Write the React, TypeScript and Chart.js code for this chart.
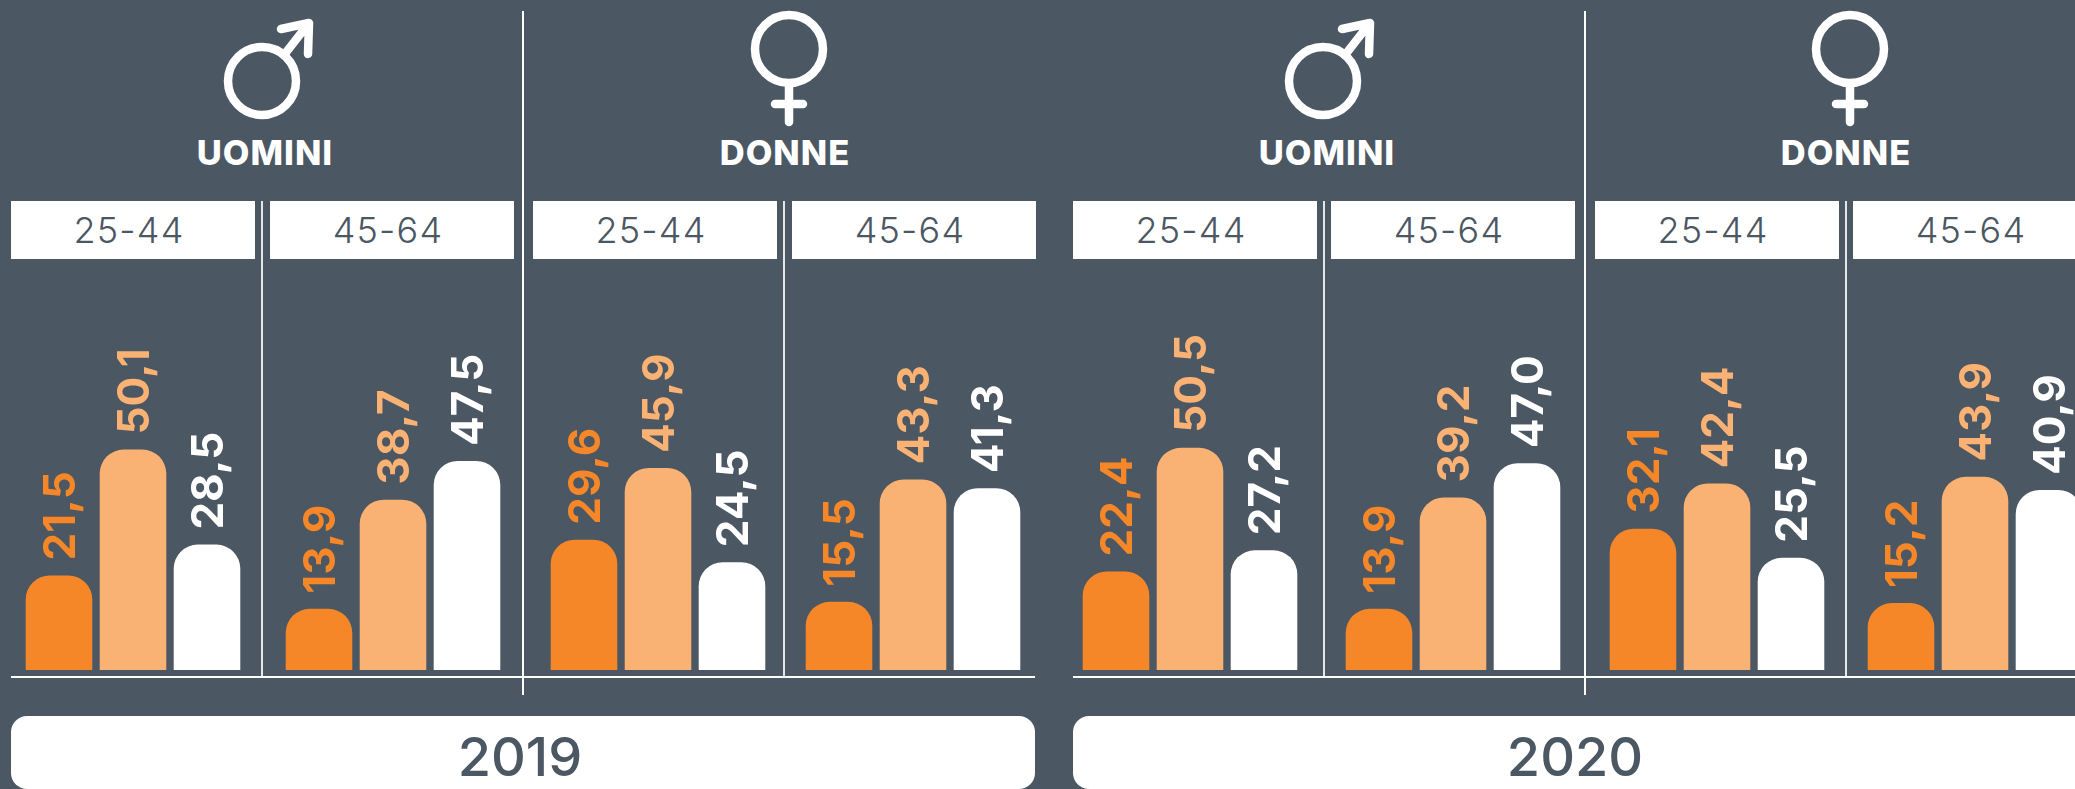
import React, { useEffect, useRef } from "react";
import { Chart, registerables } from "chart.js";

Chart.register(...registerables);

const years = ["2019", "2020"];
const genders = ["UOMINI", "DONNE", "UOMINI", "DONNE"];
const ageGroups = ["25-44", "45-64", "25-44", "45-64", "25-44", "45-64", "25-44", "45-64"];
const seriesDark = [21.5, 13.9, 29.6, 15.5, 22.4, 13.9, 32.1, 15.2];
const seriesLight = [50.1, 38.7, 45.9, 43.3, 50.5, 39.2, 42.4, 43.9];
const seriesWhite = [28.5, 47.5, 24.5, 41.3, 27.2, 47.0, 25.5, 40.9];

const BG = "#4b5763";
const ORANGE = "#f58729";
const LIGHT = "#f9b174";
const WHITE = "#ffffff";
const FONT = "Inter, sans-serif";

// page layout
const panelCentres = [133, 393, 658, 913, 1190, 1453, 1717, 1975];
const boxLefts = [11, 270, 533, 792, 1073, 1331, 1595, 1853];
const dividerXs = [262, 784, 1324, 1846];
const majorXs = [523, 1585];
const genderCentres = [265, 785, 1327, 1846];
const iconCentres = [262, 789, 1323, 1850];
const yearBoxes = [
  { left: 11, width: 1024 },
  { left: 1073, width: 1040 },
];
const yearCentres = [520, 1575];

const valueLabels = {
  id: "valueLabels",
  afterDatasetsDraw(chart: any) {
    const { ctx } = chart;
    chart.data.datasets.forEach((ds: any, i: number) => {
      chart.getDatasetMeta(i).data.forEach((bar: any, j: number) => {
        ctx.save();
        ctx.translate(bar.x + 16, bar.y - 15);
        ctx.rotate(-Math.PI / 2);
        ctx.font = `700 44px ${FONT}`;
        ctx.fillStyle = ds.backgroundColor;
        ctx.textAlign = "left";
        ctx.textBaseline = "alphabetic";
        ctx.fillText(ds.data[j].toFixed(1).replace(".", ","), 0, 0);
        ctx.restore();
      });
    });
  },
};

function Panel({ index }: { index: number }) {
  const ref = useRef<HTMLCanvasElement>(null);
  useEffect(() => {
    const chart = new Chart(ref.current!, {
      type: "bar",
      plugins: [valueLabels],
      data: {
        labels: [ageGroups[index]],
        datasets: [
          { data: [seriesDark[index]], backgroundColor: ORANGE },
          { data: [seriesLight[index]], backgroundColor: LIGHT },
          { data: [seriesWhite[index]], backgroundColor: WHITE },
        ].map((d) => ({
          ...d,
          borderRadius: { topLeft: 24, topRight: 24, bottomLeft: 0, bottomRight: 0 },
          borderSkipped: false,
          categoryPercentage: 1,
          barPercentage: 0.9,
        })),
      },
      options: {
        animation: false,
        responsive: false,
        maintainAspectRatio: false,
        layout: { padding: 0 },
        plugins: { legend: { display: false }, tooltip: { enabled: false } },
        scales: {
          x: { display: false },
          y: { display: false, min: 0, max: 85 },
        },
      } as any,
    });
    return () => chart.destroy();
  }, [index]);
  return (
    <canvas
      ref={ref}
      width={222}
      height={374}
      style={{ position: "absolute", left: panelCentres[index] - 111, top: 296, width: 222, height: 374 }}
    />
  );
}

const line = (left: number, top: number, width: number, height: number, key: string, opacity = 1) => (
  <div key={key} style={{ position: "absolute", left, top, width, height, background: WHITE, opacity }} />
);

function Male({ cx }: { cx: number }) {
  return (
    <svg style={{ position: "absolute", left: cx - 50, top: 10, overflow: "visible" }} width={110} height={110}>
      <g fill="none" stroke={WHITE} strokeWidth={8.5} strokeLinecap="round" strokeLinejoin="round">
        <circle cx={50} cy={71} r={34} />
        <path d="M72 45 L97 13 M69 19 L97 13 L96 44" />
      </g>
    </svg>
  );
}

function Female({ cx }: { cx: number }) {
  return (
    <svg style={{ position: "absolute", left: cx - 50, top: 0, overflow: "visible" }} width={100} height={130}>
      <g fill="none" stroke={WHITE} strokeWidth={8.5} strokeLinecap="round">
        <circle cx={50} cy={49} r={34} />
        <path d="M50 84 L50 122 M36 104 L64 104" />
      </g>
    </svg>
  );
}

export default function App() {
  return (
    <div
      style={{
        position: "fixed",
        left: 0,
        top: 0,
        width: 2075,
        height: 789,
        overflow: "hidden",
        background: BG,
        fontFamily: FONT,
      }}
    >
      {majorXs.map((x, i) => line(x - 1, 11, 2, 684, `m${i}`))}
      {dividerXs.map((x, i) => line(x - 0.75, 201, 1.5, 476, `d${i}`, 0.85))}
      {yearBoxes.map((b, i) => line(b.left, 676, b.width, 2, `a${i}`))}
      {iconCentres.map((cx, i) => (i % 2 === 0 ? <Male key={i} cx={cx} /> : <Female key={i} cx={cx} />))}
      {genders.map((g, i) => (
        <div
          key={g + i}
          style={{
            position: "absolute",
            left: genderCentres[i] - 120,
            width: 240,
            top: 131,
            height: 44,
            lineHeight: "44px",
            textAlign: "center",
            color: WHITE,
            fontWeight: 800,
            fontSize: 34.5,
            letterSpacing: 1,
          }}
        >
          {g}
        </div>
      ))}
      {ageGroups.map((a, i) => (
        <div
          key={a + i}
          style={{
            position: "absolute",
            left: boxLefts[i],
            top: 201,
            width: 236,
            paddingRight: 8,
            height: 58,
            lineHeight: "58px",
            textAlign: "center",
            background: WHITE,
            color: BG,
            fontWeight: 300,
            fontSize: 36,
            letterSpacing: 1.2,
          }}
        >
          {a}
        </div>
      ))}
      {ageGroups.map((_, i) => (
        <Panel key={i} index={i} />
      ))}
      {yearBoxes.map((b, i) => (
        <div
          key={i}
          style={{
            position: "absolute",
            left: b.left,
            top: 716,
            width: b.width,
            height: 73,
            background: WHITE,
            borderRadius: 16,
          }}
        />
      ))}
      {years.map((y, i) => (
        <div
          key={y}
          style={{
            position: "absolute",
            left: yearCentres[i] - 150,
            width: 300,
            top: 722,
            height: 70,
            lineHeight: "70px",
            textAlign: "center",
            color: BG,
            fontWeight: 500,
            fontSize: 54,
          }}
        >
          {y}
        </div>
      ))}
    </div>
  );
}
